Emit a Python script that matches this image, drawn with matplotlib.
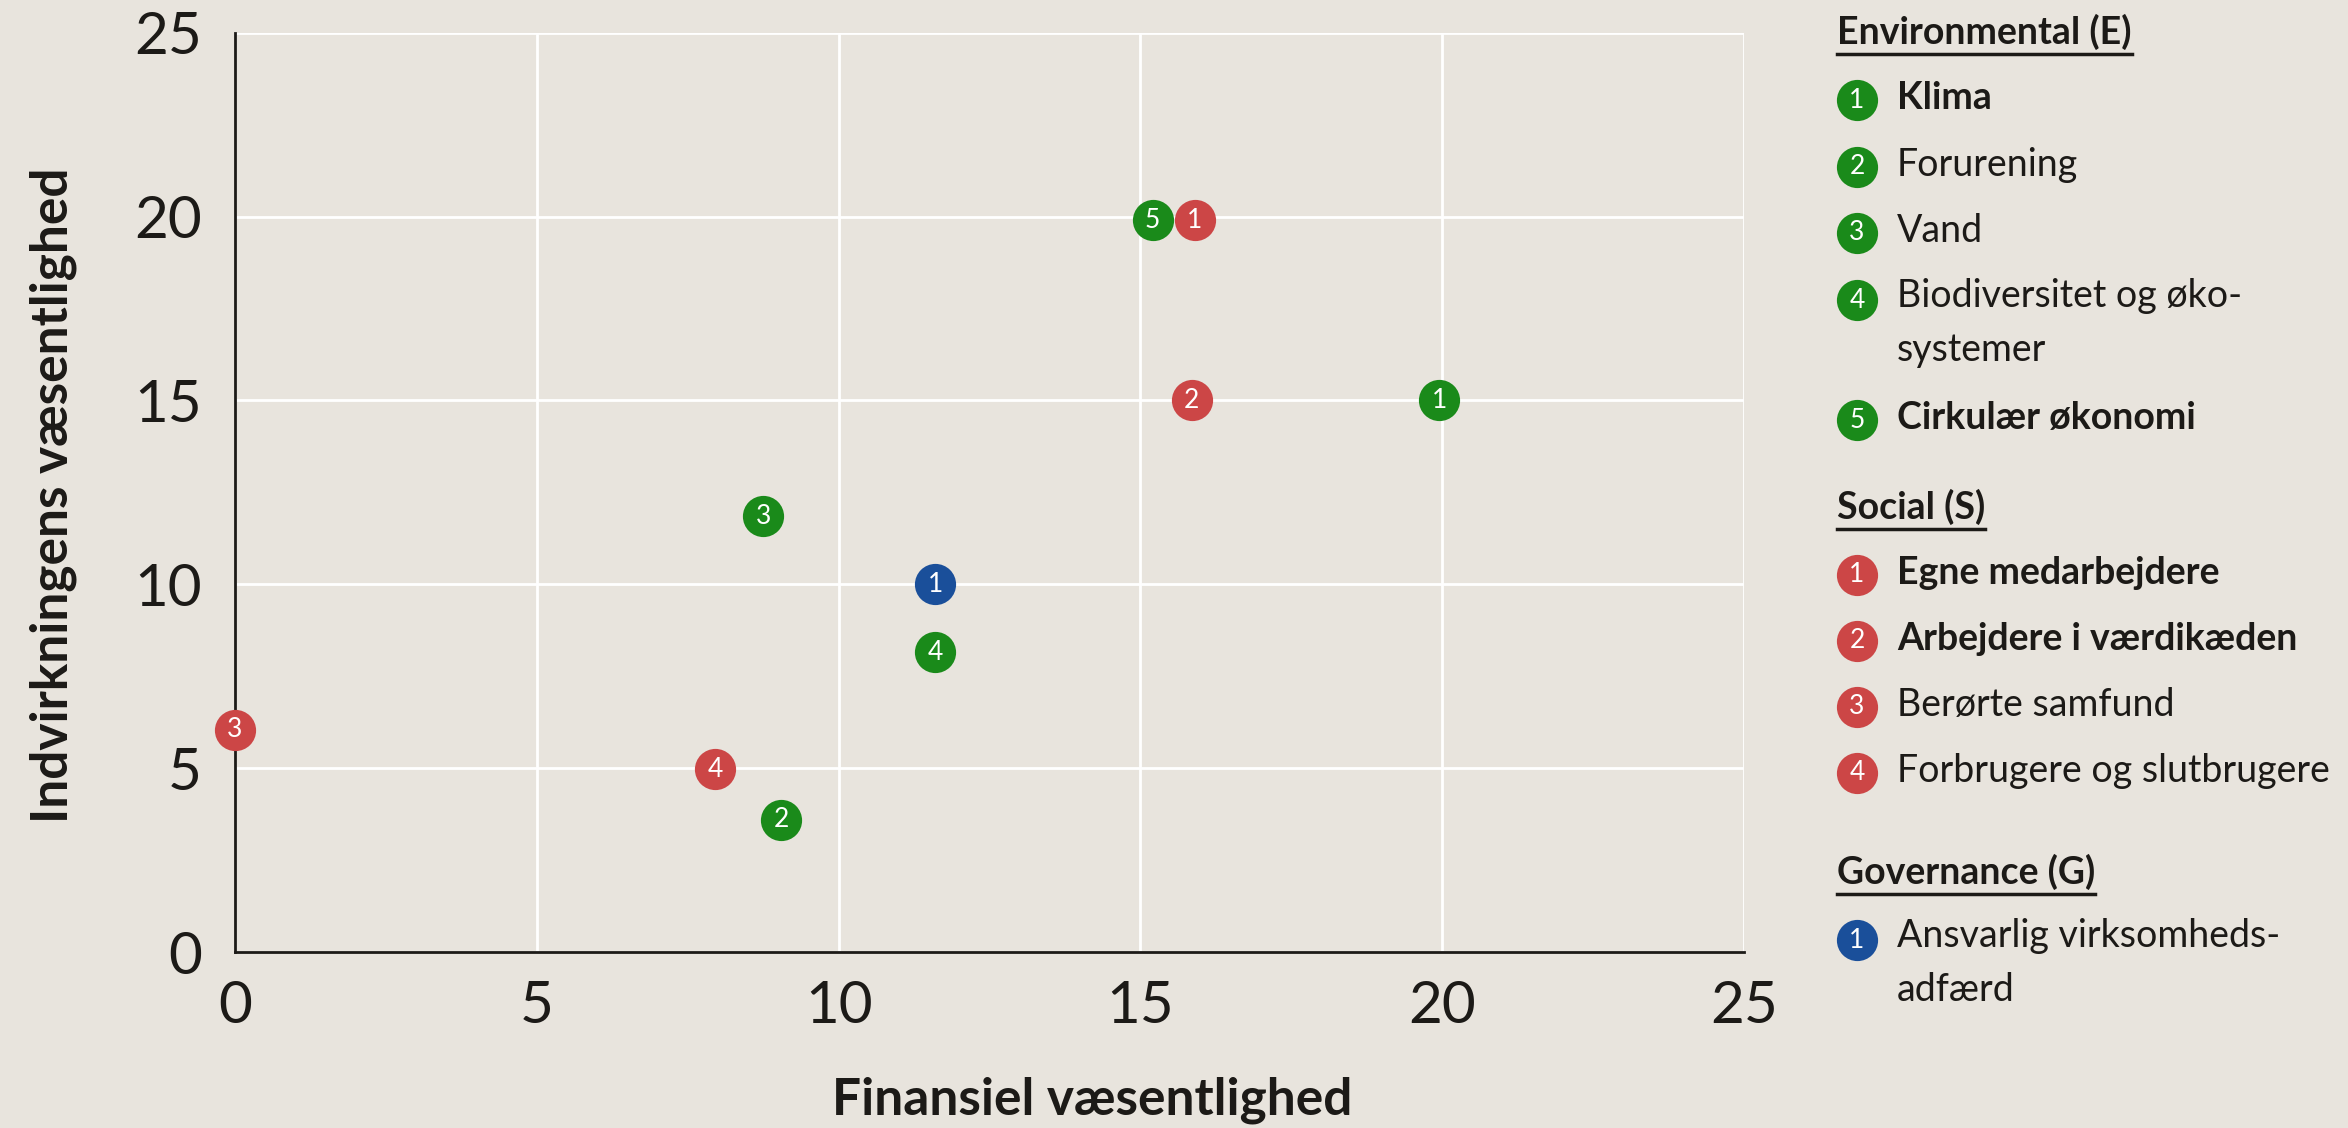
import numpy as np
import matplotlib.pyplot as plt
from matplotlib.lines import Line2D

# data
env_labels = ["Klima", "Forurening", "Vand", "Biodiversitet og øko-\nsystemer", "Cirkulær økonomi"]
env_bold = [True, False, False, False, True]
env_x = [19.95, 9.05, 8.75, 11.6, 15.2]
env_y = [15.0, 3.6, 11.85, 8.15, 19.9]

soc_labels = ["Egne medarbejdere", "Arbejdere i værdikæden", "Berørte samfund", "Forbrugere og slutbrugere"]
soc_bold = [True, True, False, False]
soc_x = [15.9, 15.85, 0.0, 7.95]
soc_y = [19.9, 15.0, 6.05, 4.97]

gov_labels = ["Ansvarlig virksomheds-\nadfærd"]
gov_bold = [False]
gov_x = [11.6]
gov_y = [10.0]

ticks = [0, 5, 10, 15, 20, 25]

BG = "#e8e4dd"
GREEN = "#1a8a1a"
RED = "#cc4646"
BLUE = "#1a4f9a"
INK = "#1c1a17"
MS = 880

plt.rcParams['font.family'] = ['Lato', 'DejaVu Sans']

fig = plt.figure(figsize=(23.48, 11.28), dpi=100, facecolor=BG)
ax = fig.add_axes([0.1001, 0.156, 0.6427, 0.815])
ax.set_facecolor(BG)

groups = [(env_x, env_y, GREEN), (soc_x, soc_y, RED), (gov_x, gov_y, BLUE)]
for xs, ys, col in groups:
    ax.scatter(xs, ys, s=MS, color=col, zorder=3, clip_on=False, linewidths=0)
    for i, (x, y) in enumerate(zip(xs, ys)):
        ax.text(x, y, str(i + 1), color="white", fontsize=19, ha="center", va="center",
                zorder=4)

ax.set_xlim(0, 25)
ax.set_ylim(0, 25)
ax.set_xticks(ticks)
ax.set_yticks(ticks)
ax.grid(True, color="white", linewidth=2)
ax.set_axisbelow(True)
for s in ["top", "right"]:
    ax.spines[s].set_visible(False)
for s in ["left", "bottom"]:
    ax.spines[s].set_color(INK)
    ax.spines[s].set_linewidth(2)
ax.tick_params(length=0, labelsize=42, colors=INK, pad=24)
ax.tick_params(axis="x", pad=20)
ax.set_xlabel("Finansiel væsentlighed", fontsize=37, fontweight="bold", color=INK)
ax.xaxis.set_label_coords(0.568, -0.135)
ax.set_ylabel("Indvirkningens væsentlighed", fontsize=37, fontweight="bold", color=INK)
ax.yaxis.set_label_coords(-0.105, 0.497)

# legend drawn on an overlay in pixel coordinates
lax = fig.add_axes([0, 0, 1, 1])
lax.set_xlim(0, 2348)
lax.set_ylim(1128, 0)
lax.axis("off")
lax.patch.set_alpha(0)

renderer = fig.canvas.get_renderer()


def header(y, txt):
    t = lax.text(1837, y, txt, fontsize=27, fontweight="bold", color=INK, va="center", ha="left")
    bb = t.get_window_extent(renderer).transformed(lax.transData.inverted())
    lax.add_line(Line2D([bb.x0, bb.x1], [bb.y0 + 4, bb.y0 + 4], color=INK, lw=2.5))


def item(y, num, label, bold, col):
    lax.scatter([1857], [y], s=MS, color=col, linewidths=0)
    lax.text(1857, y, str(num), color="white", fontsize=19, ha="center", va="center")
    w = "bold" if bold else "normal"
    if "\n" in label:
        lax.text(1897, y - 22, label, fontsize=27, fontweight=w, color=INK,
                 ha="left", va="top", linespacing=1.62)
    else:
        lax.text(1897, y - 2, label, fontsize=27, fontweight=w, color=INK,
                 ha="left", va="center")


header(32, "Environmental (E)")
env_rows = [100, 167, 233, 300, 420]
for i, (yy, lab, b) in enumerate(zip(env_rows, env_labels, env_bold)):
    item(yy, i + 1, lab, b, GREEN)

header(507, "Social (S)")
soc_rows = [575, 641, 707, 773]
for i, (yy, lab, b) in enumerate(zip(soc_rows, soc_labels, soc_bold)):
    item(yy, i + 1, lab, b, RED)

header(872, "Governance (G)")
for i, (lab, b) in enumerate(zip(gov_labels, gov_bold)):
    item(940, i + 1, lab, b, BLUE)

fig.savefig("out.png", dpi=100, facecolor=BG)
